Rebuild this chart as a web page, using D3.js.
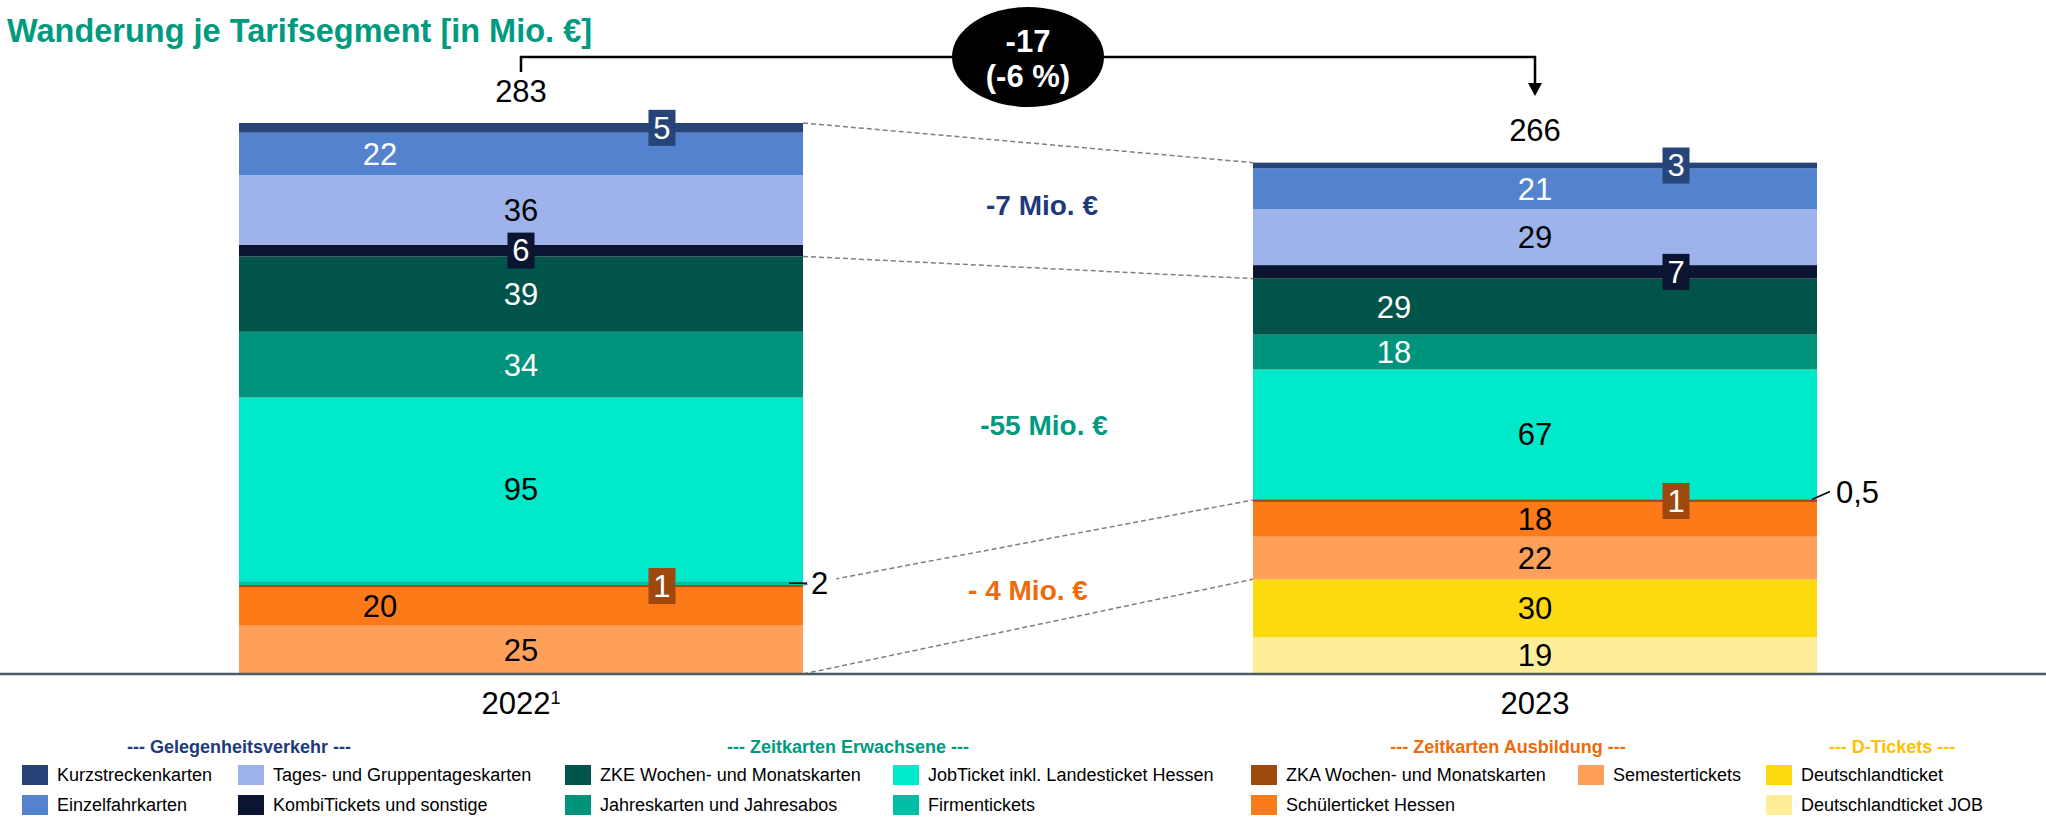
<!DOCTYPE html>
<html lang="de">
<head>
<meta charset="utf-8">
<script src="https://cdn.jsdelivr.net/npm/d3@7"></script>
<style>
  html, body { margin: 0; padding: 0; background: #fff; }
  svg { display: block; font-family: "Liberation Sans", Arial, Helvetica, sans-serif; }
</style>
</head>
<body>
<script>
// ---- Data (Mio. €) ----
const years = ["2022", "2023"];
const yearFootnotes = ["1", ""];
const segments = [
  "Kurzstreckenkarten", "Einzelfahrkarten", "Tages- und Gruppentageskarten", "KombiTickets und sonstige",
  "ZKE Wochen- und Monatskarten", "Jahreskarten und Jahresabos", "JobTicket inkl. Landesticket Hessen", "Firmentickets",
  "ZKA Wochen- und Monatskarten", "Schülerticket Hessen", "Semestertickets",
  "Deutschlandticket", "Deutschlandticket JOB"
];
const values2022 = [5, 22, 36, 6, 39, 34, 95, 2, 1, 20, 25, 0, 0];
const values2023 = [3, 21, 29, 7, 29, 18, 67, 0.5, 1, 18, 22, 30, 19];
const totals = [283, 266];
const groups = ["Gelegenheitsverkehr", "Zeitkarten Erwachsene", "Zeitkarten Ausbildung", "D-Tickets"];
const segmentGroup = [0, 0, 0, 0, 1, 1, 1, 1, 2, 2, 2, 3, 3];
const groupChangeLabels = ["-7 Mio. €", "-55 Mio. €", "- 4 Mio. €"];

// ---- Styling ----
const segColors = ["#264478", "#5383CF", "#9EB3EC", "#0B1430", "#005449", "#00947D", "#00E9CA", "#00BFA6",
                   "#9E480E", "#FD7A19", "#FEA05A", "#FDD90F", "#FEEE99"];
const groupColors = ["#1F3A7A", "#009B7F", "#F06A0A", "#FFC000"];
// label placement per segment: kind (w = white text, k = black text, b = boxed, o = outside), horizontal fraction
const labelLayout = {
  "2022": ["b.75", "w.25", "k.5", "b.5", "w.5", "w.5", "k.5", "oh", "b.75", "k.25", "k.5", null, null],
  "2023": ["b.75", "w.5", "k.5", "b.75", "w.25", "w.25", "k.5", "od", "b.75", "k.5", "k.5", "k.5", "k.5"]
};
// annotation anchors for group change labels (value on y scale, x offset from gap centre)
const changeAnchors = [[242.6, 14], [128.8, 16], [43.4, 0]];

const W = 2046, H = 817;
const de = d3.formatLocale({ decimal: ",", thousands: ".", grouping: [3], currency: ["", " €"], minus: "-" });
const fmt = de.format("~g");

const svg = d3.select("body").append("svg").attr("width", W).attr("height", H);

// ---- Scales ----
const x = d3.scaleBand().domain(years).range([239, 1817]).paddingInner(0.4438).paddingOuter(0);
const y = d3.scaleLinear().domain([0, 300]).range([674, 94]);
const bw = x.bandwidth();

const rows = years.map((yr, i) => {
  const vals = i === 0 ? values2022 : values2023;
  const r = { year: yr };
  segments.forEach((s, j) => r[s] = vals[j]);
  return r;
});
const stackKeys = segments.slice().reverse(); // bottom first
const series = d3.stack().keys(stackKeys)(rows);
const colorOf = d3.scaleOrdinal().domain(segments).range(segColors);

// ---- Title ----
svg.append("text").attr("x", 7).attr("y", 42)
  .attr("font-size", 32.5).attr("font-weight", "bold").attr("fill", "#009B7F")
  .text("Wanderung je Tarifsegment [in Mio. €]");

// ---- Dashed connectors between group boundaries ----
function groupTop(yearIdx, g) {
  // cumulative value at the top of group g (stack from bottom)
  const vals = yearIdx === 0 ? values2022 : values2023;
  let sum = 0;
  segments.forEach((s, j) => { if (segmentGroup[j] >= g) sum += vals[j]; });
  return sum;
}
const connG = svg.append("g").attr("stroke", "#7f7f7f").attr("stroke-width", 1.5)
  .attr("stroke-dasharray", "5,3").attr("fill", "none");
[0, 1, 2, 3].forEach(g => {
  connG.append("line")
    .attr("x1", x("2022") + bw).attr("y1", y(groupTop(0, g)))
    .attr("x2", x("2023")).attr("y2", y(groupTop(1, g)));
});

// ---- Bars ----
const barG = svg.append("g");
series.forEach(s => {
  barG.selectAll(null).data(s).join("rect")
    .attr("x", d => x(d.data.year))
    .attr("width", bw)
    .attr("y", d => y(d[1]))
    .attr("height", d => Math.max(0, y(d[0]) - y(d[1])))
    .attr("fill", colorOf(s.key));
});

// ---- Segment value labels ----
const lblG = svg.append("g").attr("font-size", 31);
series.forEach(s => {
  const segIdx = segments.indexOf(s.key);
  s.forEach(d => {
    const yr = d.data.year;
    const spec = labelLayout[yr][segIdx];
    const v = d.data[s.key];
    if (!spec || !v) return;
    const x0 = x(yr);
    const cy = (y(d[0]) + y(d[1])) / 2;
    const kind = spec[0];
    if (kind === "o") {
      const xr = x0 + bw;
      const g = lblG.append("g");
      if (spec[1] === "h") {
        const t = g.append("text").attr("x", xr + 8).attr("y", cy).attr("dy", "0.35em").text(fmt(v));
        const bb = t.node().getBBox();
        g.insert("rect", "text").attr("x", bb.x - 2).attr("y", bb.y - 4)
          .attr("width", bb.width + 10).attr("height", bb.height + 4).attr("fill", "#fff");
        g.append("line").attr("x1", xr - 14).attr("x2", xr + 4).attr("y1", cy).attr("y2", cy)
          .attr("stroke", "#000").attr("stroke-width", 1.5);
      } else {
        g.append("line").attr("x1", xr - 5).attr("y1", cy).attr("x2", xr + 13).attr("y2", cy - 8)
          .attr("stroke", "#000").attr("stroke-width", 1.5);
        g.append("text").attr("x", xr + 19).attr("y", cy - 7).attr("dy", "0.35em").text(fmt(v));
      }
      return;
    }
    const frac = +spec.slice(1);
    const cx = x0 + bw * frac;
    if (kind === "b") {
      lblG.append("rect").attr("x", cx - 13.5).attr("y", cy - 18).attr("width", 27).attr("height", 36)
        .attr("fill", colorOf(s.key));
    }
    lblG.append("text").attr("x", cx).attr("y", cy).attr("dy", "0.35em")
      .attr("text-anchor", "middle")
      .attr("fill", kind === "k" ? "#000" : "#fff")
      .text(fmt(v));
  });
});

// ---- Totals ----
years.forEach((yr, i) => {
  const top = series[series.length - 1].find(d => d.data.year === yr)[1];
  svg.append("text").attr("x", x(yr) + bw / 2).attr("y", y(top) - 32).attr("dy", "0.35em")
    .attr("text-anchor", "middle").attr("font-size", 31).text(fmt(totals[i]));
});

// ---- Change bracket ----
const cxL = x("2022") + bw / 2, cxR = x("2023") + bw / 2;
const bracketY = 57;
svg.append("path")
  .attr("d", `M${cxL},72 V${bracketY} H${cxR} V84`)
  .attr("fill", "none").attr("stroke", "#000").attr("stroke-width", 2.5);
svg.append("path")
  .attr("d", `M${cxR - 7},83 L${cxR + 7},83 L${cxR},96 Z`).attr("fill", "#000");
const midX = (cxL + cxR) / 2;
svg.append("ellipse").attr("cx", midX).attr("cy", bracketY).attr("rx", 76).attr("ry", 50).attr("fill", "#000");
const change = totals[1] - totals[0];
const pct = Math.round(change / totals[0] * 100);
svg.append("text").attr("x", midX).attr("y", 41).attr("dy", "0.35em").attr("text-anchor", "middle")
  .attr("font-size", 31).attr("font-weight", "bold").attr("fill", "#fff").text(fmt(change));
svg.append("text").attr("x", midX).attr("y", 76).attr("dy", "0.35em").attr("text-anchor", "middle")
  .attr("font-size", 31).attr("font-weight", "bold").attr("fill", "#fff").text(`(${fmt(pct)} %)`);

// ---- Group change annotations ----
const gapX = (x("2022") + bw + x("2023")) / 2;
groupChangeLabels.forEach((t, i) => {
  svg.append("text").attr("x", gapX + changeAnchors[i][1]).attr("y", y(changeAnchors[i][0]))
    .attr("dy", "0.35em").attr("text-anchor", "middle")
    .attr("font-size", 28).attr("font-weight", "bold").attr("fill", groupColors[i]).text(t);
});

// ---- Baseline and category axis ----
svg.append("line").attr("x1", 0).attr("x2", W).attr("y1", y(0)).attr("y2", y(0))
  .attr("stroke", "#4F5B62").attr("stroke-width", 2.5);
const axisG = svg.append("g").attr("transform", `translate(0,${y(0)})`)
  .call(d3.axisBottom(x).tickSize(0).tickPadding(18));
axisG.select(".domain").remove();
axisG.selectAll(".tick text")
  .attr("font-size", 31).attr("font-family", "Liberation Sans, Arial, sans-serif").attr("fill", "#000")
  .each(function (d, i) {
    if (yearFootnotes[i]) {
      d3.select(this).append("tspan").attr("font-size", 18).attr("dy", "-0.55em").text(yearFootnotes[i]);
    }
  });

// ---- Legend ----
const legendCols = [
  { x: 22, items: [0, 1] }, { x: 238, items: [2, 3] }, { x: 565, items: [4, 5] },
  { x: 893, items: [6, 7] }, { x: 1251, items: [8, 9] }, { x: 1578, items: [10] }, { x: 1766, items: [11, 12] }
];
const legendHeaders = [239, 848, 1508, 1892];
const legG = svg.append("g");
groups.forEach((g, i) => {
  legG.append("text").attr("x", legendHeaders[i]).attr("y", 747).attr("dy", "0.35em")
    .attr("text-anchor", "middle").attr("font-size", 18).attr("font-weight", "bold")
    .attr("fill", groupColors[i]).text(`--- ${g} ---`);
});
const rowY = [775, 805];
legendCols.forEach(c => {
  c.items.forEach((si, r) => {
    legG.append("rect").attr("x", c.x).attr("y", rowY[r] - 10).attr("width", 26).attr("height", 20)
      .attr("fill", segColors[si]);
    legG.append("text").attr("x", c.x + 35).attr("y", rowY[r]).attr("dy", "0.35em")
      .attr("font-size", 18).attr("fill", "#000").text(segments[si]);
  });
});
</script>
</body>
</html>
